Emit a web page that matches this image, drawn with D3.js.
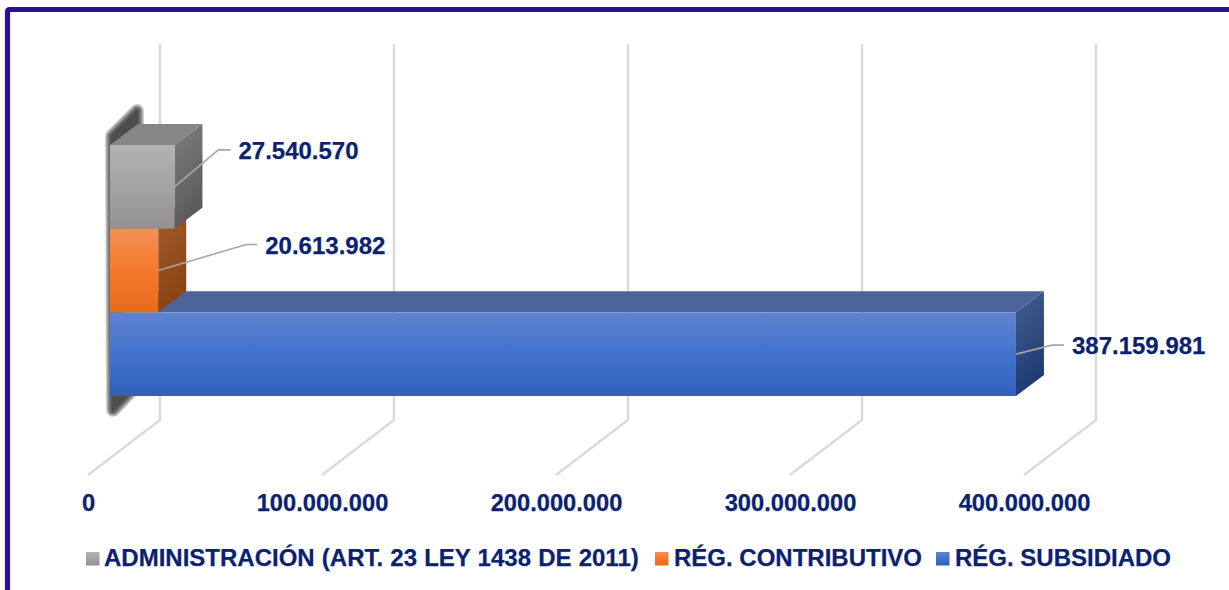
<!DOCTYPE html>
<html><head><meta charset="utf-8">
<script src="https://cdnjs.cloudflare.com/ajax/libs/d3/7.8.5/d3.min.js"></script>
<style>
html,body{margin:0;padding:0;background:#fff;overflow:hidden}
text{font-family:"Liberation Sans",Arial,sans-serif;font-weight:700;fill:#0B2270;stroke:#0B2270;stroke-width:.25px}
</style></head><body>
<svg id="c" width="1229" height="590"></svg>
<script>
const categories = ["RÉG. SUBSIDIADO", "RÉG. CONTRIBUTIVO", "ADMINISTRACIÓN (ART. 23 LEY 1438 DE 2011)"];
const values = [387159981, 20613982, 27540570];
const tickValues = [0, 100000000, 200000000, 300000000, 400000000];
const legendOrder = [2, 1, 0];

const palette = [
  {f:["#5F83D0","#4272CC","#2F61BA"], top:"#4C6499", side:["#45608F","#1D3A72"]},
  {f:["#F39057","#F5792A","#E66C1D"], top:"#A85C2A", side:["#A35C2E","#8A4410"]},
  {f:["#B2B2B2","#A3A3A3","#929292"], top:"#868686", side:["#7E7E7E","#5A5A5A"]}
];
const leaders = [
  {fy:.5, pts:[[36,-9],[48,-9]], lx:56},
  {fy:.5, pts:[[88,-26],[99,-26]], lx:107},
  {fy:.5, pts:[[44,-37],[56,-37]], lx:64}
];

const svg = d3.select("#c");
const defs = svg.append("defs");
const fmt = d3.formatLocale({decimal:",",thousands:".",grouping:[3],currency:["",""]}).format(",d");

const DX = 28, DY = -21, FX = 72, FY = -55;
const x = d3.scaleLinear().domain([0,400000000]).range([110,1046]);
const floorX = d3.scaleLinear().domain([0,400000000]).range([88,1024]);
const y = d3.scaleBand().domain(categories).range([396,145]);

palette.forEach((p,i)=>{
  const a = defs.append("linearGradient").attr("id","f"+i).attr("x1",0).attr("y1",0).attr("x2",0).attr("y2",1);
  p.f.forEach((c,k)=>a.append("stop").attr("offset",k/2).attr("stop-color",c));
  const b = defs.append("linearGradient").attr("id","s"+i).attr("x1",0).attr("y1",0).attr("x2",.3).attr("y2",1);
  p.side.forEach((c,k)=>b.append("stop").attr("offset",k).attr("stop-color",c));
});

// frame
svg.append("path").attr("d","M7.5 590 V12 Q7.5 9.5 10 9.5 H1229")
  .attr("fill","none").attr("stroke","#2E0F9C").attr("stroke-width",5.2);

// gridlines
const grid = svg.append("g").attr("fill","none").attr("stroke","#D9D9D9").attr("stroke-width",2.4);
tickValues.forEach(t=>{
  const fx = floorX(t);
  grid.append("path").attr("d",`M${fx} 475 L${fx+FX} ${475+FY} V44`);
});

// soft shadow: stacked translucent layers
const sx = x(0), sb = y.range()[0], st = y.range()[1];
const shadowPath = `M${sx+2} ${st-9} L${sx+27} ${st-34} L${sx+27} ${st-12} L${sx+8} ${st+6} L${sx+8} ${sb-8} L${sx+24} ${sb-8} L${sx+3} ${sb+14} Z`;
const shadow = svg.append("g").attr("stroke-linejoin","round");
[14,12,10,8,6,4,2].forEach(w=>{
  shadow.append("path").attr("d",shadowPath).attr("fill","#222").attr("stroke","#222")
    .attr("stroke-width",w).attr("opacity",.2);
});

// bars
const line = d3.line();
const order = d3.range(values.length);
const bars = svg.append("g");
order.forEach(i=>{
  const c = categories[i], x0 = x(0), x1 = x(values[i]), t = y(c), b = t + y.bandwidth();
  const g = bars.append("g");
  g.append("path").attr("fill",palette[i].top)
    .attr("d",line([[x0,t],[x0+DX,t+DY],[x1+DX,t+DY],[x1,t]])+"Z");
  g.append("path").attr("fill",`url(#s${i})`)
    .attr("d",line([[x1,t],[x1+DX,t+DY],[x1+DX,b+DY],[x1,b]])+"Z");
  g.append("rect").attr("x",x0).attr("y",t).attr("width",x1-x0).attr("height",b-t).attr("fill",`url(#f${i})`);
});

// leaders + data labels
order.forEach(i=>{
  const c = categories[i], x1 = x(values[i]), my = y(c)+y.bandwidth()*leaders[i].fy;
  const l = leaders[i];
  svg.append("path").attr("fill","none").attr("stroke","#A6A6A6").attr("stroke-width",1.6)
    .attr("d",line([[x1,my],...l.pts.map(p=>[x1+p[0],my+p[1]])]));
  svg.append("text").attr("x",x1+l.lx).attr("y",my+l.pts[0][1]+9).attr("font-size",24).text(fmt(values[i]));
});

// axis labels
svg.append("g").selectAll("text").data(tickValues).join("text")
  .attr("x",d=>floorX(d)+.5).attr("y",510.5).attr("text-anchor","middle").attr("font-size",23.7).text(d=>fmt(d));

// legend
const legendX = [[86,104],[655,674],[936,955]];
legendOrder.forEach((i,k)=>{
  svg.append("rect").attr("x",legendX[k][0]).attr("y",552).attr("width",13.5).attr("height",13.5).attr("fill",`url(#f${i})`);
  svg.append("text").attr("x",legendX[k][1]).attr("y",566).attr("font-size",24).attr("word-spacing",k===0?.5:0).text(categories[i]);
});
</script></body></html>
